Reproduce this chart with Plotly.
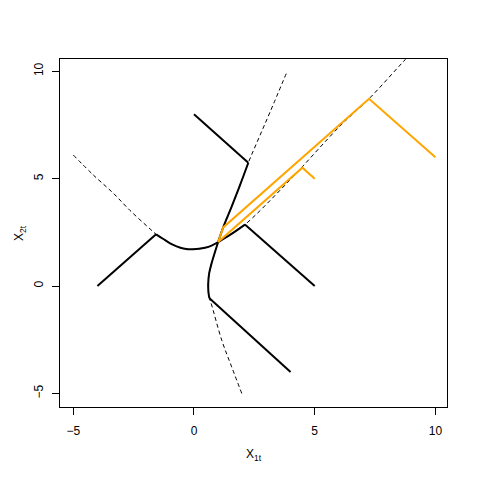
import plotly.graph_objects as go

# curve 1 (U-shaped branch)
curve1_x = [-5.0, -4.17, -3.34, -2.65, -1.82, -1.57, -1.27, -0.99, -0.72, -0.44, -0.03, 0.46, 0.73, 1.0, 1.49, 2.11, 3.84, 6.05, 7.25, 8.74, 10.0]
curve1_y = [6.10, 5.17, 4.32, 3.52, 2.66, 2.41, 2.19, 1.99, 1.85, 1.75, 1.71, 1.78, 1.88, 2.05, 2.38, 2.86, 4.78, 7.45, 8.72, 10.53, 12.0]

# curve 2 (steep branch)
curve2_x = [1.98, 1.56, 1.15, 0.73, 0.64, 0.60, 0.59, 0.63, 0.73, 1.0, 1.21, 1.56, 1.91, 2.25, 2.67, 3.15, 3.84]
curve2_y = [-5.0, -3.76, -2.52, -0.88, -0.57, -0.30, 0.13, 0.60, 1.06, 2.05, 2.73, 3.70, 4.71, 5.74, 6.85, 8.10, 9.94]

# black paths: start point -> point on a curve, then along that curve to the crossing
path_a = {"start": (-4, 0), "curve": 1, "idx": list(range(5, 14))}
path_b = {"start": (0, 8), "curve": 2, "idx": [13, 12, 11, 10, 9]}
path_c = {"start": (5, 0), "curve": 1, "idx": [15, 14, 13]}
path_d = {"start": (4, -4), "curve": 2, "idx": [4, 5, 6, 7, 8, 9]}

# orange paths
orange1_x = [10, 7.25, 1.21, 1.0]
orange1_y = [6, 8.72, 2.73, 2.05]
orange2_x = [5, 4.49, 1.0]
orange2_y = [5, 5.51, 2.05]

curves = {1: (curve1_x, curve1_y), 2: (curve2_x, curve2_y)}

fig = go.Figure()

# dashed curves
for cx, cy in curves.values():
    fig.add_trace(go.Scatter(x=cx, y=cy, mode="lines", line_shape="spline",
                             line=dict(color="black", width=1, dash="4px,3px")))

# solid black paths: straight jump onto the curve, then follow the curve
for p in [path_a, path_b, path_c, path_d]:
    cx, cy = curves[p["curve"]]
    px = [cx[i] for i in p["idx"]]
    py = [cy[i] for i in p["idx"]]
    fig.add_trace(go.Scatter(x=[p["start"][0], px[0]], y=[p["start"][1], py[0]],
                             mode="lines", line=dict(color="black", width=2)))
    fig.add_trace(go.Scatter(x=px, y=py, mode="lines", line_shape="spline",
                             line=dict(color="black", width=2)))

for ox, oy in [(orange1_x, orange1_y), (orange2_x, orange2_y)]:
    fig.add_trace(go.Scatter(x=ox, y=oy, mode="lines",
                             line=dict(color="#FFA500", width=2)))

axis_style = dict(
    showgrid=False, zeroline=False,
    showline=True, mirror=True, linecolor="black", linewidth=1,
    ticks="outside", ticklen=7, tickcolor="black",
    tickvals=[-5, 0, 5, 10],
    tickfont=dict(family="Liberation Sans, Arial", size=12, color="black"),
)

# page body has an 8px margin, so the figure is 472px and margins shift by 8
fig.update_layout(
    width=472, height=472,
    margin=dict(l=52, r=33, t=51, b=73),
    paper_bgcolor="white", plot_bgcolor="white",
    showlegend=False,
    xaxis=dict(range=[-5.55, 10.48], ticklabelstandoff=6, **axis_style),
    yaxis=dict(range=[-5.63, 10.57], tickangle=-90, ticklabelstandoff=4, **axis_style),
    annotations=[
        dict(text="X<sub>1t</sub>", xref="paper", yref="paper", x=0.5, y=0,
             xanchor="center", yanchor="middle", yshift=-48, showarrow=False,
             font=dict(family="Liberation Sans, Arial", size=12, color="black")),
        dict(text="X<sub>2t</sub>", xref="paper", yref="paper", x=0, y=0.5,
             xanchor="center", yanchor="middle", xshift=-40, textangle=-90,
             showarrow=False,
             font=dict(family="Liberation Sans, Arial", size=12, color="black")),
    ],
)

fig.write_html("out.html")
